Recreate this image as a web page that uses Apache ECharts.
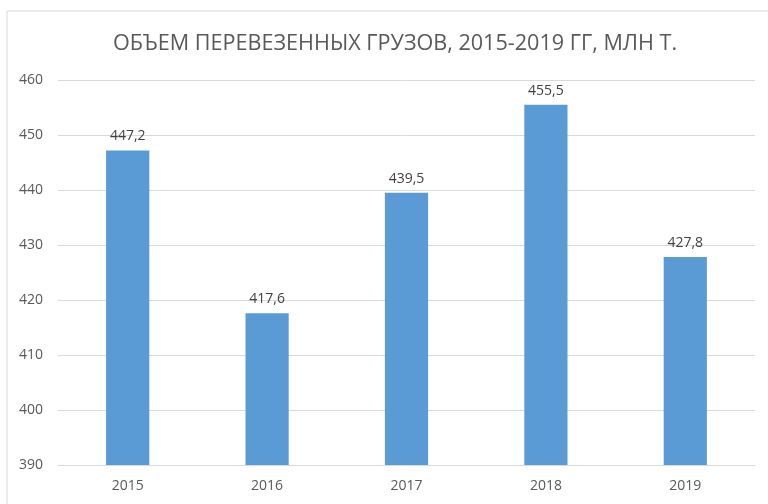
<!DOCTYPE html>
<html>
<head>
<meta charset="utf-8">
<script src="https://cdn.jsdelivr.net/npm/echarts@6/dist/echarts.min.js"></script>
<style>
  html, body { margin: 0; padding: 0; background: #fff; }
  #chart { width: 768px; height: 504px; }
</style>
</head>
<body>
<div id="chart"></div>
<script>
const years = ['2015', '2016', '2017', '2018', '2019'];
const cargo = [447.2, 417.6, 439.5, 455.5, 427.8];
const titleText = 'ОБЪЕМ ПЕРЕВЕЗЕННЫХ ГРУЗОВ, 2015-2019 ГГ, МЛН Т.';

const chart = echarts.init(document.getElementById('chart'));
chart.setOption({
    animation: false,
    textStyle: { fontFamily: 'Open Sans' },
    graphic: [
        {
            type: 'rect',
            shape: { x: 7, y: 11, width: 800, height: 600 },
            style: { fill: 'none', stroke: '#d9d9d9', lineWidth: 1 },
            z: -1,
        },
    ],
    title: {
        text: titleText,
        left: 108,
        top: 28,
        textStyle: { fontFamily: 'Open Sans', fontSize: 21.6, fontWeight: 'normal', color: '#595959' },
    },
    grid: { left: 58, right: 13, top: 80, bottom: 39 },
    xAxis: {
        type: 'category',
        data: years,
        axisTick: { show: false },
        axisLine: { lineStyle: { color: '#d9d9d9', width: 1 } },
        axisLabel: { color: '#595959', fontSize: 14, margin: 14 },
    },
    yAxis: {
        type: 'value',
        min: 390,
        max: 460,
        interval: 10,
        axisLine: { show: false },
        axisTick: { show: false },
        splitLine: { lineStyle: { color: '#d9d9d9', width: 1 } },
        axisLabel: { color: '#595959', fontSize: 14, margin: 15 },
    },
    series: [
        {
            type: 'bar',
            data: cargo,
            barWidth: '31%',
            itemStyle: { color: '#5b9bd5' },
            label: {
                show: true,
                position: 'top',
                distance: 7,
                color: '#404040',
                fontSize: 14,
                formatter: (p) => p.value.toFixed(1).replace('.', ','),
            },
        },
    ],
});
</script>
</body>
</html>
